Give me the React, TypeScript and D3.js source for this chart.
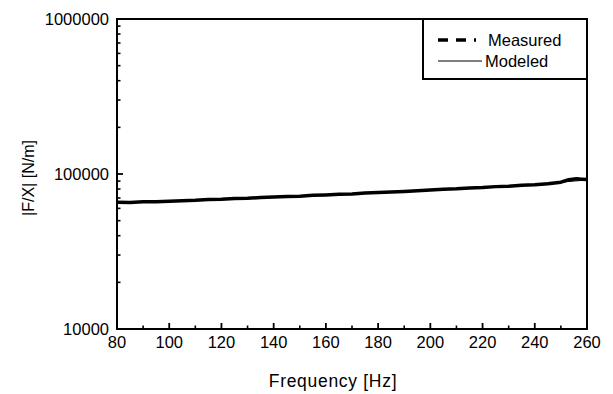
import React, { useEffect, useRef } from "react";
import * as d3 from "d3";

// frequencies [Hz] and |F/X| [N/m]
const measFreq = [80, 85, 90, 95, 100, 105, 110, 115, 120, 125, 130, 135, 140, 145, 150, 155, 160, 165, 170, 175, 180, 185, 190, 195, 200, 205, 210, 215, 220, 225, 230, 235, 240, 245, 250, 253, 256, 258, 260];
const measVals = [65800, 65600, 66200, 66100, 66700, 67300, 67600, 68400, 68700, 69600, 69700, 70500, 71000, 71700, 71900, 72800, 73300, 74000, 74400, 75300, 75900, 76600, 77200, 78100, 78800, 79600, 80200, 81200, 81800, 82900, 83500, 84600, 85300, 86500, 88600, 91800, 93200, 92600, 92000];
const modelFreq = [80, 100, 120, 140, 160, 180, 200, 220, 240, 260];
const modelVals = [65600, 66900, 68700, 70900, 73300, 75900, 78800, 82000, 85800, 91500];
const xTicks = [80, 100, 120, 140, 160, 180, 200, 220, 240, 260];
const yTicks = [10000, 100000, 1000000];

export default function App() {
  const svgRef = useRef<SVGSVGElement>(null);

  useEffect(() => {
    const svg = d3.select(svgRef.current);
    svg.selectAll("*").remove();
    const W = 613, H = 394;
    const m = { left: 117, right: 587, top: 19, bottom: 329 };
    const font = "Liberation Sans, Arial, sans-serif";

    const x = d3.scaleLinear().domain([80, 260]).range([m.left, m.right]);
    const y = d3.scaleLog().domain([10000, 1000000]).range([m.bottom, m.top]);

    svg.attr("width", W).attr("height", H);
    svg.append("rect").attr("width", W).attr("height", H).attr("fill", "#fff");

    // frame
    svg.append("rect")
      .attr("x", m.left).attr("y", m.top)
      .attr("width", m.right - m.left).attr("height", m.bottom - m.top)
      .attr("fill", "none").attr("stroke", "#000").attr("stroke-width", 2);

    // x ticks (inward)
    const xMinor = d3.range(90, 260, 20);
    xTicks.forEach(t => {
      svg.append("line").attr("x1", x(t)).attr("x2", x(t))
        .attr("y1", m.bottom).attr("y2", m.bottom - 6)
        .attr("stroke", "#000").attr("stroke-width", 1.8);
      svg.append("text").attr("x", x(t)).attr("y", m.bottom + 19)
        .attr("text-anchor", "middle").attr("font-family", font)
        .attr("font-size", "16.5px").attr("fill", "#000").text(t);
    });
    xMinor.forEach(t => {
      svg.append("line").attr("x1", x(t)).attr("x2", x(t))
        .attr("y1", m.bottom).attr("y2", m.bottom - 3.5)
        .attr("stroke", "#000").attr("stroke-width", 1.6);
    });

    // y ticks (log)
    yTicks.forEach(t => {
      svg.append("line").attr("x1", m.left).attr("x2", m.left + 6)
        .attr("y1", y(t)).attr("y2", y(t))
        .attr("stroke", "#000").attr("stroke-width", 1.8);
      svg.append("text").attr("x", m.left - 8).attr("y", y(t) + 6)
        .attr("text-anchor", "end").attr("font-family", font)
        .attr("font-size", "16.5px").attr("fill", "#000").text(t);
    });
    [10000, 100000].forEach(dec => {
      d3.range(2, 10).forEach(k => {
        const v = dec * k;
        svg.append("line").attr("x1", m.left).attr("x2", m.left + 3.5)
          .attr("y1", y(v)).attr("y2", y(v))
          .attr("stroke", "#000").attr("stroke-width", 1.6);
      });
    });

    // lines
    const line = d3.line<[number, number]>().x(d => x(d[0])).y(d => y(d[1]));
    svg.append("path")
      .attr("d", line(modelFreq.map((f, i) => [f, modelVals[i]]) as [number, number][]))
      .attr("fill", "none").attr("stroke", "#000").attr("stroke-width", 1);
    svg.append("path")
      .attr("d", line(measFreq.map((f, i) => [f, measVals[i]]) as [number, number][]))
      .attr("fill", "none").attr("stroke", "#000").attr("stroke-width", 3.5)
      .attr("stroke-linejoin", "round");

    // legend
    const lg = svg.append("g");
    lg.append("rect").attr("x", 423).attr("y", m.top).attr("width", m.right - 423).attr("height", 60)
      .attr("fill", "#fff").attr("stroke", "#000").attr("stroke-width", 2);
    lg.append("line").attr("x1", 438).attr("x2", 476).attr("y1", 40).attr("y2", 40)
      .attr("stroke", "#000").attr("stroke-width", 3.4).attr("stroke-dasharray", "10,8");
    lg.append("line").attr("x1", 438).attr("x2", 482).attr("y1", 61).attr("y2", 61)
      .attr("stroke", "#000").attr("stroke-width", 1);
    lg.append("text").attr("x", 488).attr("y", 46).attr("font-family", font)
      .attr("font-size", "16.5px").attr("fill", "#000").text("Measured");
    lg.append("text").attr("x", 485).attr("y", 67).attr("font-family", font)
      .attr("font-size", "16.5px").attr("fill", "#000").text("Modeled");

    // axis titles
    svg.append("text").attr("x", 333).attr("y", 387)
      .attr("text-anchor", "middle").attr("font-family", font)
      .attr("font-size", "17.5px").attr("letter-spacing", "0.7px")
      .attr("fill", "#000").text("Frequency [Hz]");
    svg.append("text")
      .attr("transform", `translate(34,178) rotate(-90)`)
      .attr("text-anchor", "middle").attr("font-family", font)
      .attr("font-size", "16px").attr("fill", "#000").text("|F/X| [N/m]");
  }, []);

  return (
    <div style={{ position: "fixed", left: 0, top: 0, width: 613, height: 394, overflow: "hidden" }}>
      <svg ref={svgRef} style={{ display: "block" }}></svg>
    </div>
  );
}
